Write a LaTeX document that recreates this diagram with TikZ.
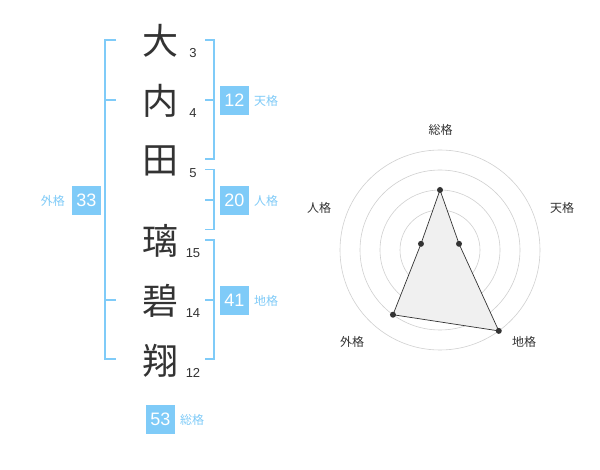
\documentclass[tikz,border=0pt]{standalone}
\usepackage{fontspec}
\setmainfont{Liberation Sans}
\newfontfamily\jp{Noto Sans CJK JP}
\definecolor{kblue}{HTML}{7FCBF8}
\definecolor{ink}{HTML}{333333}
\definecolor{ring}{HTML}{D0D0D0}
\definecolor{areafill}{HTML}{F0F0F0}
\begin{document}
\begin{tikzpicture}[x=1pt,y=-1pt,
  kanji/.style={font=\jp\fontsize{36}{36}\selectfont, text=ink, inner sep=0pt},
  strokenum/.style={font=\fontsize{13}{13}\selectfont, text=ink, inner sep=0pt},
  scorebox/.style={fill=kblue, text=white, minimum size=29pt, inner sep=0pt, font=\fontsize{18}{18}\selectfont},
  scorelab/.style={font=\jp\fontsize{12}{12}\selectfont, text=kblue, inner sep=0pt},
  bracket/.style={draw=kblue, line width=1.8pt},
  radlab/.style={font=\jp\fontsize{12}{12}\selectfont, text=ink, inner sep=0pt},
  ringline/.style={draw=ring, line width=0.6pt},
  dot/.style={circle, fill=ink, inner sep=0pt, minimum size=6pt}
]
\useasboundingbox (0,0) rectangle (600,470);
\fill[white] (0,0) rectangle (600,470);

% characters
\node[kanji] (c1) at (160,41) {大};
\node[kanji] (c2) at (160,101) {内};
\node[kanji] (c3) at (160,161) {田};
\node[kanji] (c4) at (160,241) {璃};
\node[kanji] (c5) at (160,301) {碧};
\node[kanji] (c6) at (160,361) {翔};

% stroke counts
\node[strokenum] (n1) at (193,53) {3};
\node[strokenum] (n2) at (193,113) {4};
\node[strokenum] (n3) at (193,173) {5};
\node[strokenum] (n4) at (193,253) {15};
\node[strokenum] (n5) at (193,313) {14};
\node[strokenum] (n6) at (193,373) {12};

% left bracket (外格)
\coordinate (la) at (116,40);
\coordinate (lb) at (105,40);
\coordinate (lc) at (105,359);
\coordinate (ld) at (116,359);
\draw[bracket] (la) -- (lb) -- (lc) -- (ld);
\draw[bracket] (105,100) -- (116,100);
\draw[bracket] (105,300) -- (116,300);

% right brackets
\draw[bracket] (205,40) -- (214,40) -- (214,159) -- (205,159);
\draw[bracket] (205,100) -- (214,100);
\draw[bracket] (205,169.5) -- (214,169.5) -- (214,229.5) -- (205,229.5);
\draw[bracket] (205,200) -- (214,200);
\draw[bracket] (205,240) -- (214,240) -- (214,359) -- (205,359);
\draw[bracket] (205,300) -- (214,300);

% score boxes
\node[scorebox] (ten) at (234.5,100.5) {12};
\node[scorelab, anchor=west] (tenl) at (254,101) {天格};
\node[scorebox] (jin) at (234.5,200.5) {20};
\node[scorelab, anchor=west] (jinl) at (254,201) {人格};
\node[scorebox] (chi) at (234.5,300.5) {41};
\node[scorelab, anchor=west] (chil) at (254,301) {地格};
\node[scorebox] (gai) at (86.5,200.5) {33};
\node[scorelab, anchor=east] (gail) at (65,201) {外格};
\node[scorebox] (sou) at (160.5,419) {53};
\node[scorelab, anchor=west] (soul) at (180,420) {総格};

% radar chart
\coordinate (ctr) at (440,250);
\foreach \r in {20,40,60,80,100} {
  \draw[ringline] (ctr) circle (\r pt);
}
\node[circle, fill=ring, inner sep=0pt, minimum size=8pt] (cdot) at (ctr) {};
\path (ctr) ++(0,-60) coordinate (pS)
      (ctr) ++(19.02,-6.18) coordinate (pT)
      (ctr) ++(58.78,80.90) coordinate (pC)
      (ctr) ++(-47.02,64.72) coordinate (pG)
      (ctr) ++(-19.02,-6.18) coordinate (pJ);
\fill[areafill] (pS) -- (pT) -- (pC) -- (pG) -- (pJ) -- cycle;
\draw[ink, line width=0.7pt] (pS) -- (pT) -- (pC) -- (pG) -- (pJ) -- cycle;
\node[dot] (dS) at (pS) {};
\node[dot] (dT) at (pT) {};
\node[dot] (dC) at (pC) {};
\node[dot] (dG) at (pG) {};
\node[dot] (dJ) at (pJ) {};

\node[radlab] (rS) at (440.5,130) {総格};
\node[radlab] (rT) at (562,208) {天格};
\node[radlab] (rC) at (524,342) {地格};
\node[radlab] (rG) at (352,342) {外格};
\node[radlab] (rJ) at (319,208) {人格};
\end{tikzpicture}
\end{document}
